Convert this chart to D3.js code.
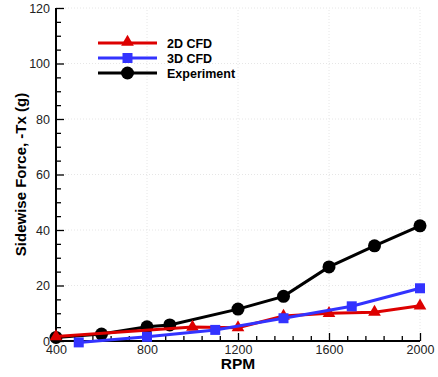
<!DOCTYPE html>
<html>
<head>
<meta charset="utf-8">
<script src="https://cdn.jsdelivr.net/npm/d3@7"></script>
<style>
  body { margin: 0; background: #fff; }
  text { font-family: "Liberation Sans", Arial, sans-serif; }
</style>
</head>
<body>
<div class="chart"></div>
<script>
// data
const rpm2d = [400, 1000, 1200, 1400, 1600, 1800, 2000];
const force2d = [1.6, 5.0, 4.8, 9.0, 10.0, 10.4, 12.7];
const rpm3d = [500, 800, 1100, 1400, 1700, 2000];
const force3d = [-0.5, 1.5, 4.0, 8.2, 12.5, 19.0];
const rpmExp = [400, 600, 800, 900, 1200, 1400, 1600, 1800, 2000];
const forceExp = [1.3, 2.5, 5.1, 5.8, 11.5, 16.1, 26.7, 34.3, 41.5];
const xTicks = [400, 800, 1200, 1600, 2000];
const yTicks = [0, 20, 40, 60, 80, 100, 120];

const width = 438, height = 377;
const margin = {left: 56, right: 18, top: 8, bottom: 36};

const svg = d3.select('.chart')
  .append('svg')
    .attr('width', width)
    .attr('height', height);

const x = d3.scaleLinear().domain([400, 2000]).range([margin.left, width - margin.right]);
const y = d3.scaleLinear().domain([0, 120]).range([height - margin.bottom, margin.top]);

// faint dotted grid
const grid = svg.append('g').attr('stroke', '#e6e6e6').attr('stroke-dasharray', '1,2');
grid.selectAll('.hg').data(yTicks.slice(1)).enter().append('line')
  .attr('x1', x(400)).attr('x2', x(2000))
  .attr('y1', d => y(d)).attr('y2', d => y(d));
grid.selectAll('.vg').data(xTicks.slice(1)).enter().append('line')
  .attr('x1', d => x(d)).attr('x2', d => x(d))
  .attr('y1', y(0)).attr('y2', y(120));

// axes with inward ticks
const xMinor = d3.range(400, 2001, 80).filter(v => !xTicks.includes(v));
const yMinor = d3.range(0, 121, 5).filter(v => !yTicks.includes(v));

svg.append('g')
  .attr('transform', `translate(0,${y(0)})`)
  .call(d3.axisBottom(x).tickValues(xMinor).tickSize(-5).tickFormat(''))
  .call(g => g.select('.domain').remove());
svg.append('g')
  .attr('transform', `translate(${x(400)},0)`)
  .call(d3.axisLeft(y).tickValues(yMinor).tickSize(-5).tickFormat(''))
  .call(g => g.select('.domain').remove());

const xAxis = svg.append('g')
  .attr('transform', `translate(0,${y(0)})`)
  .call(d3.axisBottom(x).tickValues(xTicks).tickSize(-8).tickPadding(4).tickFormat(d3.format('d')));
const yAxis = svg.append('g')
  .attr('transform', `translate(${x(400)},0)`)
  .call(d3.axisLeft(y).tickValues(yTicks).tickSize(-8).tickPadding(6));

svg.selectAll('.tick line').attr('stroke', '#000').attr('stroke-width', 1.3);
svg.selectAll('.domain').attr('stroke', '#000').attr('stroke-width', 2);
xAxis.select('.domain').attr('d', `M${x(400)},0H${x(2000)}`);
yAxis.select('.domain').attr('d', `M0,${y(0)}V${y(120)}`);
svg.selectAll('.tick text').attr('font-size', 12.5).attr('fill', '#222');
xAxis.selectAll('.tick text').attr('dy', '0.7em');

// axis titles
svg.append('text')
  .attr('x', (x(400) + x(2000)) / 2).attr('y', 369)
  .attr('text-anchor', 'middle').attr('font-weight', 'bold').attr('font-size', 15.5)
  .text('RPM');
svg.append('text')
  .attr('transform', `translate(26,${(y(0) + y(120)) / 2}) rotate(-90)`)
  .attr('text-anchor', 'middle').attr('font-weight', 'bold').attr('font-size', 15)
  .text('Sidewise Force, -Tx (g)');

const line = d3.line().x(d => x(d[0])).y(d => y(d[1]));
const tri = d3.symbol().type(d3.symbolTriangle).size(70);
const sq = d3.symbol().type(d3.symbolSquare).size(100);

const series = [
  {name: 'Experiment', color: '#000', data: d3.zip(rpmExp, forceExp), marker: 'circle'},
  {name: '2D CFD', color: '#dd0000', data: d3.zip(rpm2d, force2d), marker: tri},
  {name: '3D CFD', color: '#3333ff', data: d3.zip(rpm3d, force3d), marker: sq}
];

function drawMarker(g, s, px, py) {
  if (s.marker === 'circle') {
    g.append('circle').attr('cx', px).attr('cy', py).attr('r', 6.5).attr('fill', s.color);
  } else {
    g.append('path').attr('d', s.marker).attr('transform', `translate(${px},${py})`).attr('fill', s.color);
  }
}

series.forEach(s => {
  const g = svg.append('g');
  g.append('path').datum(s.data)
    .attr('d', line).attr('fill', 'none')
    .attr('stroke', s.color).attr('stroke-width', 3);
  s.data.forEach(d => drawMarker(g, s, x(d[0]), y(d[1])));
});

// legend
const legendOrder = ['2D CFD', '3D CFD', 'Experiment'];
legendOrder.forEach((name, i) => {
  const s = series.find(t => t.name === name);
  const ly = 43 + i * 15;
  const g = svg.append('g');
  g.append('line').attr('x1', 98).attr('x2', 157).attr('y1', ly).attr('y2', ly)
    .attr('stroke', s.color).attr('stroke-width', 3);
  drawMarker(g, s, 127.5, s.marker === tri ? ly - 1 : ly);
  g.append('text').attr('x', 167).attr('y', ly + 4.5)
    .attr('font-weight', 'bold').attr('font-size', 12.5).text(name);
});
</script>
</body>
</html>
